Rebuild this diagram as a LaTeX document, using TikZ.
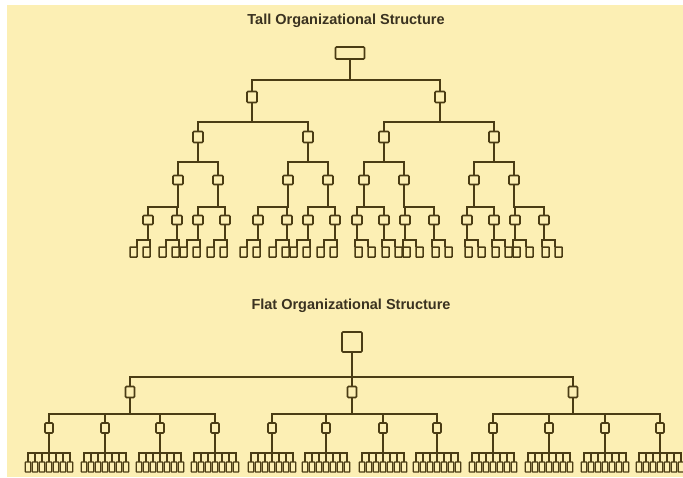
\documentclass[tikz,border=0pt]{standalone}
\usepackage{fontspec}
\setmainfont{Liberation Sans}
\definecolor{bgC}{HTML}{FCEFB4}
\definecolor{lineC}{HTML}{4A3C14}
\definecolor{txtC}{HTML}{3A3220}
\begin{document}
\begin{tikzpicture}[x=1pt,y=-1pt,
  ln/.style={draw=lineC,line width=1.8pt},
  box/.style={draw=lineC,line width=1.6pt,fill=bgC,rounded corners=1pt,inner sep=0pt,outer sep=0pt},
  rootT/.style={box,minimum width=29pt,minimum height=12pt},
  lvA/.style={box,minimum width=10pt,minimum height=11pt},
  lvB/.style={box,minimum width=10pt,minimum height=9pt},
  leafT/.style={box,line width=1.5pt,rounded corners=0.5pt,minimum width=7pt,minimum height=10pt},
  rootF/.style={box,minimum width=20pt,minimum height=20pt},
  lvF/.style={box,minimum width=9pt,minimum height=11pt},
  lvG/.style={box,minimum width=8pt,minimum height=10pt},
  leafF/.style={box,line width=1.4pt,rounded corners=0.5pt,minimum width=5.5pt,minimum height=10pt},
  ttl/.style={font=\fontsize{14.5}{16}\selectfont\bfseries,text=txtC,inner sep=0pt}]
\useasboundingbox (0,0) rectangle (683,477);
\fill[white] (0,0) rectangle (683,477);
\fill[bgC] (7,5) rectangle (683,477);

% ---------------- Tall structure ----------------
\node[ttl] (tt) at (346,21) {Tall Organizational Structure};
\node[rootT] (t0) at (350,53) {};
\foreach \x [count=\i] in {252,440} \node[lvA] (t1-\i) at (\x,97) {};
\foreach \x [count=\i] in {198,308,384,494} \node[lvA] (t2-\i) at (\x,137) {};
\foreach \x [count=\i] in {178,218,288,328,364,404,474,514} \node[lvB] (t3-\i) at (\x,180) {};
\foreach \x [count=\i] in {148,177,198,225,258,287,308,335,357,384,405,434,467,494,515,544}
  \node[lvB] (t4-\i) at (\x,220) {};
% leaves
\foreach \x [count=\j] in {148,177,198,225,258,287,308,335}{
  \pgfmathtruncatemacro\a{2*\j-1}\pgfmathtruncatemacro\b{2*\j}
  \node[leafT,anchor=north east] (t5-\a) at (\x-11,247) {};
  \node[leafT,anchor=north east] (t5-\b) at (\x+2,247) {};
  \draw[ln] (t4-\j.south) |- (t5-\a.north east |- 0,240) -- (t5-\a.north east);
  \draw[ln] (t4-\j.south) |- (t5-\b.north east |- 0,240) -- (t5-\b.north east);
}
\foreach \x [count=\jj] in {357,384,405,434,467,494,515,544}{
  \pgfmathtruncatemacro\j{\jj+8}
  \pgfmathtruncatemacro\a{2*\j-1}\pgfmathtruncatemacro\b{2*\j}
  \node[leafT,anchor=north west] (t5-\a) at (\x-2,247) {};
  \node[leafT,anchor=north west] (t5-\b) at (\x+11,247) {};
  \draw[ln] (t4-\j.south) |- (t5-\a.north west |- 0,240) -- (t5-\a.north west);
  \draw[ln] (t4-\j.south) |- (t5-\b.north west |- 0,240) -- (t5-\b.north west);
}
% connectors
\foreach \i in {1,2} \draw[ln] (t0.south) |- (t1-\i.north |- 0,80) -- (t1-\i.north);
\foreach \i in {1,2}{
  \pgfmathtruncatemacro\a{2*\i-1}\pgfmathtruncatemacro\b{2*\i}
  \draw[ln] (t1-\i.south) |- (t2-\a.north |- 0,122) -- (t2-\a.north);
  \draw[ln] (t1-\i.south) |- (t2-\b.north |- 0,122) -- (t2-\b.north);
}
\foreach \i in {1,...,4}{
  \pgfmathtruncatemacro\a{2*\i-1}\pgfmathtruncatemacro\b{2*\i}
  \draw[ln] (t2-\i.south) |- (t3-\a.north |- 0,162) -- (t3-\a.north);
  \draw[ln] (t2-\i.south) |- (t3-\b.north |- 0,162) -- (t3-\b.north);
}
\foreach \i in {1,...,8}{
  \pgfmathtruncatemacro\a{2*\i-1}\pgfmathtruncatemacro\b{2*\i}
  \draw[ln] (t3-\i.south) |- (t4-\a.north |- 0,207) -- (t4-\a.north);
  \draw[ln] (t3-\i.south) |- (t4-\b.north |- 0,207) -- (t4-\b.north);
}

% ---------------- Flat structure ----------------
\node[ttl] (ft) at (351,306) {Flat Organizational Structure};
\node[rootF] (f0) at (352,342) {};
\foreach \x [count=\i] in {130,352,573} \node[lvF] (f1-\i) at (\x,392) {};
\foreach \x [count=\g] in {49,105,160,215,272,326,383,437,493,549,605,660}{
  \node[lvG] (f2-\g) at (\x,428) {};
  \foreach \k in {1,...,7}{
    \pgfmathtruncatemacro\n{7*(\g-1)+\k}
    \node[leafF,anchor=north] (f3-\n) at (\x+7*\k-28,462) {};
    \draw[ln] (f2-\g.south) |- (f3-\n.north |- 0,453) -- (f3-\n.north);
  }
}
\foreach \i in {1,2,3} \draw[ln] (f0.south) |- (f1-\i.north |- 0,377) -- (f1-\i.north);
\foreach \i in {1,2,3}{
  \foreach \m in {1,...,4}{
    \pgfmathtruncatemacro\c{4*(\i-1)+\m}
    \draw[ln] (f1-\i.south) |- (f2-\c.north |- 0,414) -- (f2-\c.north);
  }
}
\end{tikzpicture}
\end{document}
